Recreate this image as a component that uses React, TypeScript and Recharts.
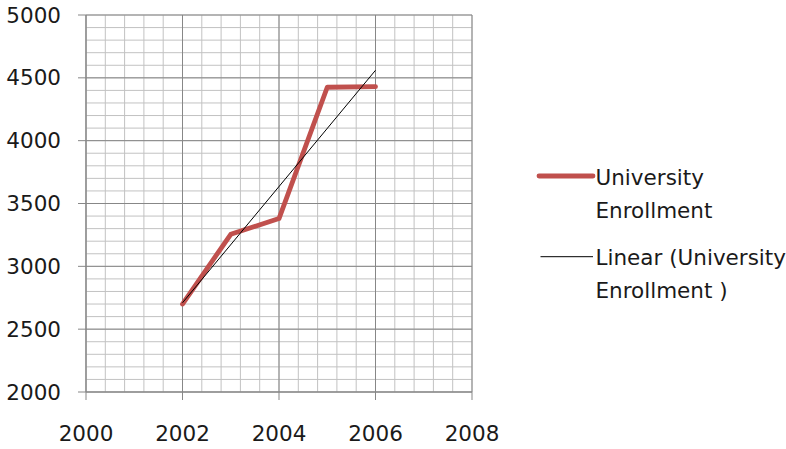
import React from 'react';
import { LineChart, Line, XAxis, YAxis, CartesianGrid, Legend } from 'recharts';

const years = [2002, 2003, 2004, 2005, 2006];
const enrollment = [2700, 3255, 3380, 4425, 4430];
const trendValues = [2710, null, null, null, 4560];

const xTicks = [2000, 2002, 2004, 2006, 2008];
const yTicks = [2000, 2500, 3000, 3500, 4000, 4500, 5000];

const seriesName = 'University Enrollment';
const trendName = 'Linear (University Enrollment )';

const data = years.map((year, i) => ({
  year,
  enrollment: enrollment[i],
  trend: trendValues[i],
}));

// grid steps (minor gridlines every 0.4 year and every 100)
const minorX: number[] = [];
for (let k = 0; k <= 20; k++) minorX.push(2000 + k * 0.4);
const minorY: number[] = [];
for (let v = 2000; v <= 5000; v += 100) minorY.push(v);

const FONT = 'DejaVu Sans';
const FS = 21.5;
const RED = '#c0504d';
const GRID_MINOR = '#c2c2c2';
const GRID_MAJOR = '#878787';

const renderLegend = () => (
  <svg width={256} height={170} style={{ display: 'block' }}>
    <line x1={9} y1={26} x2={63} y2={26} stroke={RED} strokeWidth={4.8} strokeLinecap="round" />
    <text x={65.5} y={34.7} fontFamily={FONT} fontSize={FS} fill="#1a1a1a">University</text>
    <text x={65.5} y={67.7} fontFamily={FONT} fontSize={FS} fill="#1a1a1a">Enrollment</text>
    <line x1={10.5} y1={106.7} x2={63} y2={106.7} stroke="#000" strokeWidth={1} />
    <text x={65.5} y={114.6} fontFamily={FONT} fontSize={FS} fill="#1a1a1a">Linear (University</text>
    <text x={65.5} y={147.6} fontFamily={FONT} fontSize={FS} fill="#1a1a1a">Enrollment )</text>
  </svg>
);

export default function App() {
  return (
    <div style={{ position: 'absolute', left: 0, top: 0, width: 786, height: 449, background: '#fff' }}>
      <LineChart
        width={786}
        height={449}
        data={data}
        margin={{ top: 15, right: 314, bottom: 0, left: 0 }}
      >
        <CartesianGrid
          stroke={GRID_MINOR}
          strokeWidth={1}
          verticalValues={minorX}
          horizontalValues={minorY}
        />
        <CartesianGrid
          stroke={GRID_MAJOR}
          strokeWidth={1}
          verticalValues={xTicks}
          horizontalValues={yTicks}
        />
        <XAxis
          type="number"
          dataKey="year"
          domain={[2000, 2008]}
          ticks={xTicks}
          interval={0}
          allowDataOverflow
          height={57}
          tickSize={8}
          tickMargin={26}
          axisLine={{ stroke: GRID_MAJOR }}
          tickLine={{ stroke: GRID_MAJOR }}
          tick={{ fontFamily: FONT, fontSize: FS, fill: '#1a1a1a' }}
        />
        <YAxis
          type="number"
          domain={[2000, 5000]}
          ticks={yTicks}
          interval={0}
          allowDataOverflow
          width={86}
          tickSize={8}
          tickMargin={17}
          axisLine={{ stroke: GRID_MAJOR }}
          tickLine={{ stroke: GRID_MAJOR }}
          tick={{ fontFamily: FONT, fontSize: FS, fill: '#1a1a1a' }}
        />
        <Legend
          layout="vertical"
          align="center"
          verticalAlign="middle"
          content={renderLegend}
          wrapperStyle={{ left: 530, top: 150, width: 256, height: 170 }}
        />
        <Line
          name={seriesName}
          type="linear"
          dataKey="enrollment"
          stroke={RED}
          strokeWidth={4.8}
          strokeLinecap="round"
          strokeLinejoin="round"
          dot={false}
          activeDot={false}
          isAnimationActive={false}
        />
        <Line
          name={trendName}
          type="linear"
          dataKey="trend"
          connectNulls
          stroke="#000"
          strokeWidth={1}
          dot={false}
          activeDot={false}
          isAnimationActive={false}
        />
      </LineChart>
    </div>
  );
}
